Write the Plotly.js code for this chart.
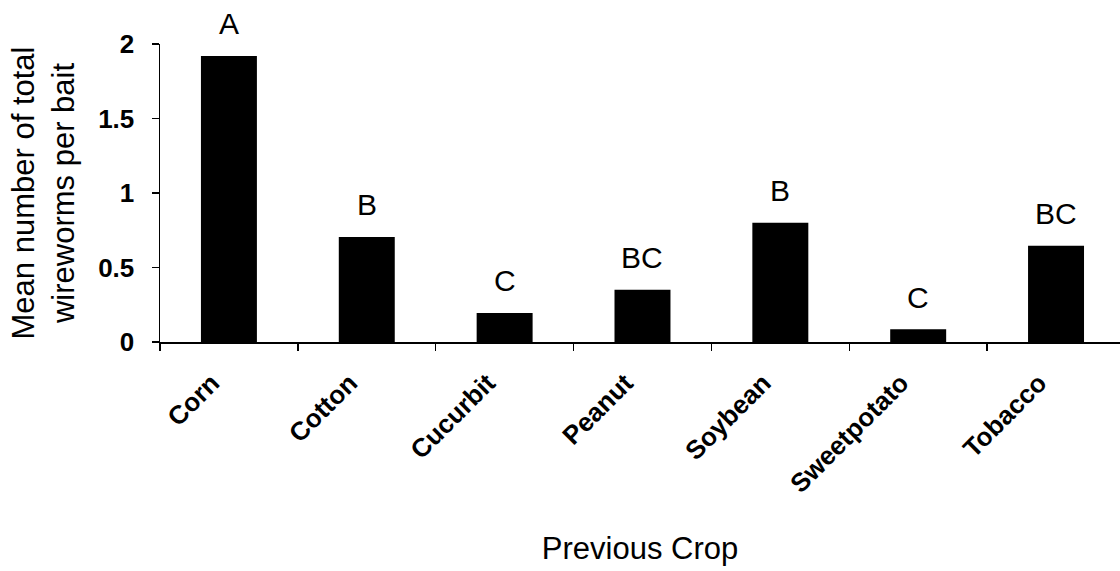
<!DOCTYPE html>
<html>
<head>
<meta charset="utf-8">
<script src="https://cdn.plot.ly/plotly-3.0.1.min.js"></script>
<style>html,body{margin:0;padding:0;overflow:hidden;background:#fff;}</style>
</head>
<body>
<div id="chart" style="width:1120px;height:571px;"></div>
<script>
var crops = ["Corn", "Cotton", "Cucurbit", "Peanut", "Soybean", "Sweetpotato", "Tobacco"];
var meanWireworms = [1.92, 0.705, 0.195, 0.35, 0.80, 0.085, 0.646];
var groupLetters = ["A", "B", "C", "BC", "B", "C", "BC"];

var fontFamily = "Liberation Sans, Arial, sans-serif";

var trace = {
  type: "bar",
  x: crops,
  y: meanWireworms,
  marker: {color: "#000000", line: {width: 0}},
  hoverinfo: "x+y"
};

var annotations = crops.map(function (c, i) {
  return {
    x: c, y: meanWireworms[i], xref: "x", yref: "y",
    text: groupLetters[i], showarrow: false,
    yanchor: "middle", yshift: 32,
    font: {family: fontFamily, size: 30, color: "#000"}
  };
});

var layout = {
  width: 1120, height: 571,
  margin: {l: 160, r: 0, t: 44, b: 229, pad: 0},
  paper_bgcolor: "#fff", plot_bgcolor: "#fff",
  showlegend: false,
  bargap: 0.594,
  font: {family: fontFamily, color: "#000"},
  xaxis: {
    type: "category",
    range: [-0.5, 6.464],
    showline: true, linecolor: "#000", linewidth: 1.5,
    ticks: "outside", ticklen: 7, tickwidth: 1.5, tickcolor: "#000",
    tickson: "boundaries",
    tickangle: -45,
    ticklabelstandoff: 14,
    ticklabelshift: -17,
    tickfont: {family: fontFamily, size: 26, color: "#000", weight: "bold"},
    showgrid: false, zeroline: false,
    title: {text: "Previous Crop", font: {family: fontFamily, size: 31, color: "#000"}, standoff: 40}
  },
  yaxis: {
    range: [0, 2],
    tickvals: [0, 0.5, 1, 1.5, 2],
    ticktext: ["0", "0.5", "1", "1.5", "2"],
    showline: true, linecolor: "#000", linewidth: 1.5,
    ticks: "outside", ticklen: 7, tickwidth: 1.5, tickcolor: "#000",
    ticklabelstandoff: 12,
    tickfont: {family: fontFamily, size: 26, color: "#000", weight: "bold"},
    showgrid: false, zeroline: false,
    title: {text: "Mean number of total<br>wireworms per bait", font: {family: fontFamily, size: 31, color: "#000"}, standoff: 14}
  },
  annotations: annotations
};

Plotly.newPlot("chart", [trace], layout, {displayModeBar: false, staticPlot: true});
</script>
</body>
</html>
